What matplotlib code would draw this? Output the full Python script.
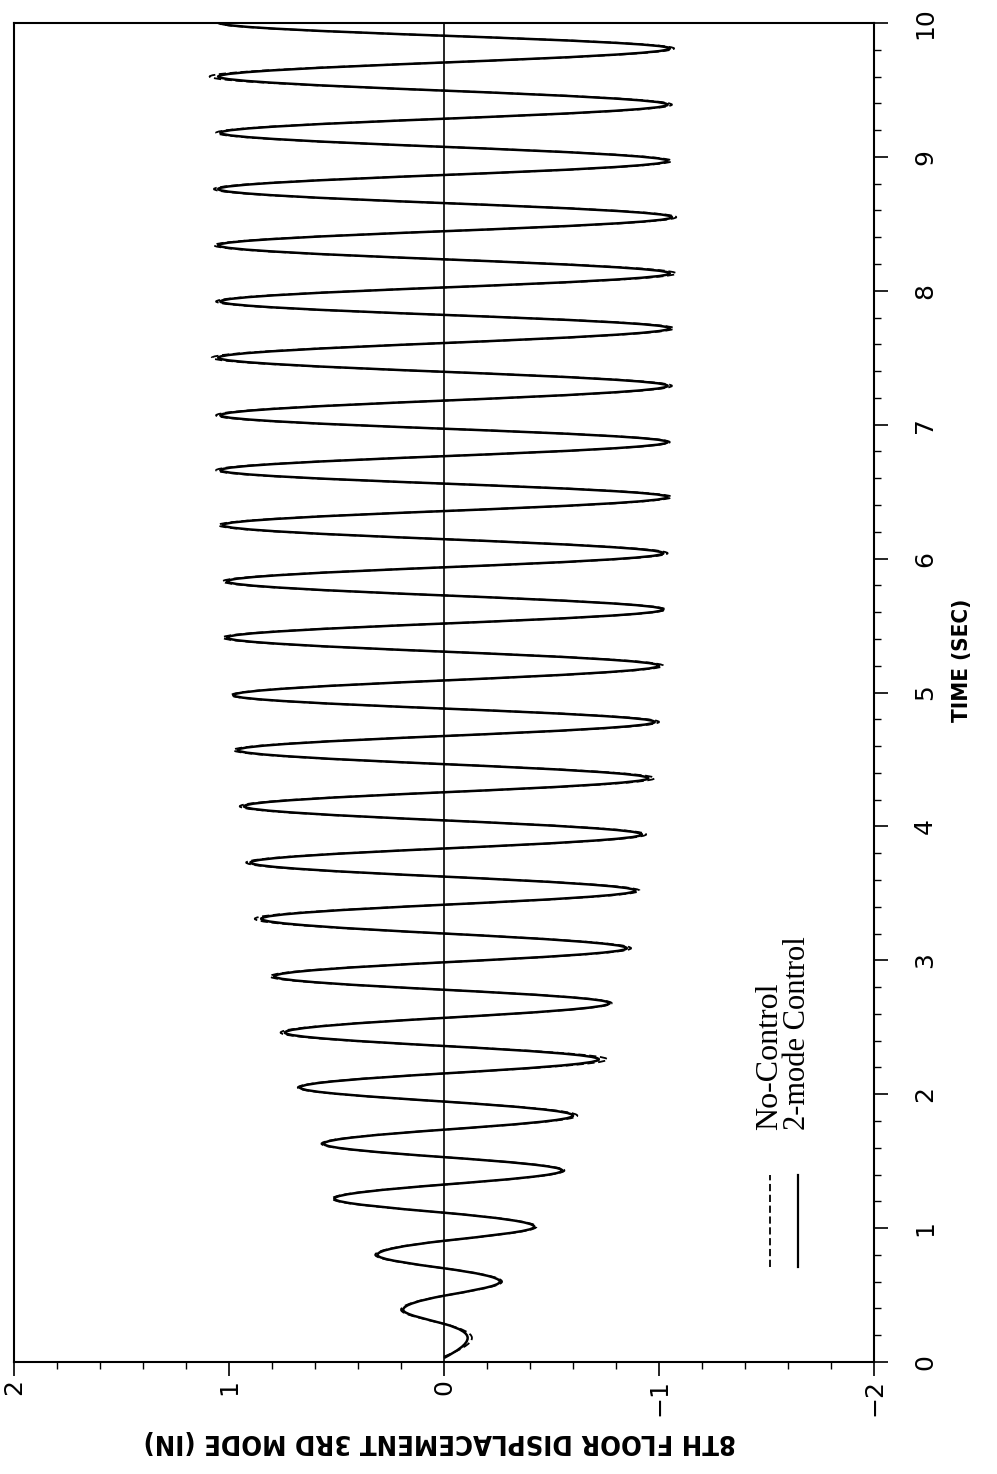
import numpy as np
import matplotlib
matplotlib.use("Agg")
import matplotlib.pyplot as plt
from matplotlib.path import Path
from matplotlib.patches import PathPatch
from matplotlib.ticker import MultipleLocator

# ===== data =====
# time of each turning point (s), start of motion
tStart = 0.03
peakTime = [0.18, 0.39, 0.60, 0.80, 1.01, 1.22, 1.43, 1.63, 1.84, 2.05,
            2.26, 2.46, 2.68, 2.88, 3.09, 3.31, 3.52, 3.73, 3.94, 4.15,
            4.36, 4.57, 4.78, 4.98, 5.20, 5.41, 5.62, 5.83, 6.04, 6.25,
            6.46, 6.66, 6.87, 7.07, 7.29, 7.50, 7.72, 7.92, 8.13, 8.34,
            8.55, 8.76, 8.97, 9.18, 9.39, 9.60, 9.81, 10.00]

# 2-mode Control (solid) turning-point displacements, in
ctrlPeak = [-0.11, 0.19, -0.26, 0.31, -0.42, 0.51, -0.55, 0.56, -0.60, 0.67,
            -0.72, 0.74, -0.77, 0.79, -0.85, 0.85, -0.89, 0.90, -0.92, 0.93,
            -0.95, 0.96, -0.98, 0.98, -1.00, 1.01, -1.02, 1.01, -1.02, 1.03,
            -1.04, 1.04, -1.04, 1.04, -1.04, 1.05, -1.05, 1.04, -1.05, 1.05,
            -1.06, 1.05, -1.04, 1.04, -1.04, 1.05, -1.05, 1.04]

# No-Control (dashed) turning-point displacements, in
noCtrlPeak = [-0.13, 0.20, -0.27, 0.32, -0.43, 0.52, -0.56, 0.57, -0.62, 0.68,
              -0.76, 0.76, -0.78, 0.81, -0.87, 0.88, -0.91, 0.92, -0.94, 0.95,
              -0.98, 0.98, -1.00, 0.99, -1.02, 1.03, -1.03, 1.03, -1.04, 1.05,
              -1.06, 1.06, -1.05, 1.06, -1.06, 1.08, -1.07, 1.06, -1.08, 1.07,
              -1.08, 1.07, -1.06, 1.06, -1.06, 1.09, -1.07, 1.05]

xTicks = [2, 1, 0, -1, -2]
tTicks = [0, 1, 2, 3, 4, 5, 6, 7, 8, 9, 10]


def wavePath(t, x, t0):
    # smooth curve through turning points, crossing zero half way between them
    verts = [(0.0, t0)]
    codes = [Path.MOVETO]
    h = t[0] - t0
    s = np.pi * x[0] / (2 * h)
    verts += [(s * h / 3, t0 + h / 3), (x[0], t[0] - h / 3), (x[0], t[0])]
    codes += [Path.CURVE4] * 3
    for i in range(len(t) - 1):
        ta, tb, a, b = t[i], t[i + 1], x[i], x[i + 1]
        tc = (ta + tb) / 2
        h = (tb - ta) / 2
        s = np.pi * (b - a) / (4 * h)
        verts += [(a, ta + h / 3), (-s * h / 3, tc - h / 3), (0.0, tc),
                  (s * h / 3, tc + h / 3), (b, tb - h / 3), (b, tb)]
        codes += [Path.CURVE4] * 6
    return Path(verts, codes)


# ===== figure (drawn turned 90 degrees, as in the scan) =====
fig = plt.figure(figsize=(9.97, 14.74), dpi=100)
ax = fig.add_axes([14 / 997, 112 / 1474, 860 / 997, 1339 / 1474])

ax.axvline(0, color="black", linewidth=1.2)

ax.add_patch(PathPatch(wavePath(peakTime, ctrlPeak, tStart), fill=False,
                       edgecolor="black", linewidth=1.8))
ax.add_patch(PathPatch(wavePath(peakTime, noCtrlPeak, tStart + 0.01), fill=False,
                       edgecolor="black", linewidth=1.3, linestyle=(0, (4, 2))))

ax.set_xlim(2, -2)
ax.set_ylim(0, 10)
ax.set_xticks(xTicks)
ax.set_yticks(tTicks)
ax.xaxis.set_minor_locator(MultipleLocator(0.2))
ax.yaxis.set_minor_locator(MultipleLocator(0.2))
ax.yaxis.tick_right()
ax.yaxis.set_label_position("right")

ax.tick_params(which="major", direction="out", length=10, width=1.2,
               labelsize=18, colors="black")
ax.tick_params(which="minor", direction="out", length=5, width=1.0)
ax.tick_params(axis="x", labelrotation=90, pad=2)
ax.tick_params(axis="y", labelrotation=90, pad=18)
for lbl in ax.get_yticklabels():
    lbl.set_va("center")

for sp in ax.spines.values():
    sp.set_linewidth(1.5)

ax.set_xlabel("8TH FLOOR DISPLACEMENT 3RD MODE (IN)", rotation=180,
              fontsize=19.6, family="DejaVu Sans", fontstretch="condensed",
              fontweight="bold")
ax.xaxis.set_label_coords(0.495, -0.059)
ax.xaxis.label.set_va("center")
ax.xaxis.label.set_ha("center")

ax.set_ylabel("TIME (SEC)", rotation=90, fontsize=16, family="DejaVu Sans",
              fontstretch="condensed", fontweight="bold")
ax.yaxis.set_label_coords(1.102, 0.524)
ax.yaxis.label.set_va("center")
ax.yaxis.label.set_ha("center")

# legend, turned with the chart
serif = ["Liberation Serif", "DejaVu Serif"]
ax.plot([0.879, 0.879], [0.071, 0.140], transform=ax.transAxes,
        color="black", linewidth=1.3, linestyle=(0, (4, 2)))
ax.plot([0.912, 0.912], [0.071, 0.140], transform=ax.transAxes,
        color="black", linewidth=1.6)
ax.text(0.887, 0.173, "No-Control", transform=ax.transAxes, rotation=90,
        rotation_mode="anchor", ha="left", va="baseline", fontsize=23,
        family=serif)
ax.text(0.920, 0.173, "2-mode Control", transform=ax.transAxes, rotation=90,
        rotation_mode="anchor", ha="left", va="baseline", fontsize=22,
        family=serif)

fig.savefig("out.png", dpi=100)
